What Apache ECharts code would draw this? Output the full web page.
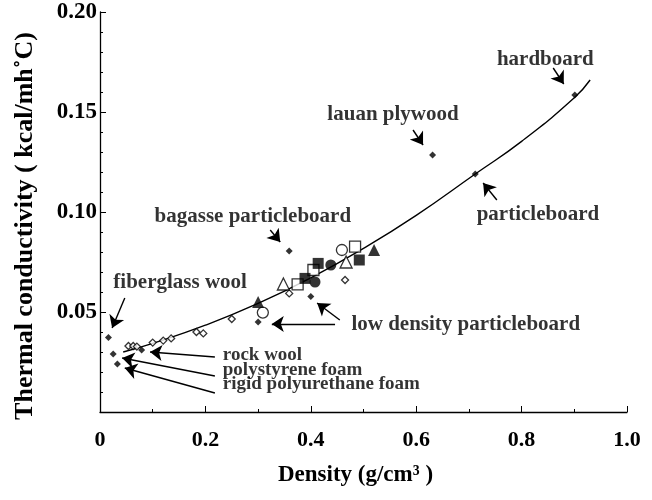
<!DOCTYPE html>
<html>
<head>
<meta charset="utf-8">
<script src="https://cdn.jsdelivr.net/npm/echarts@6/dist/echarts.min.js"></script>
<style>
    html, body { margin: 0; padding: 0; background: #fff; }
    #chart { width: 652px; height: 500px; }
</style>
</head>
<body>
<div id="chart"></div>
<script>
    // fitted curve
    let curve = [[0.044, 0.030], [0.1, 0.0343], [0.2, 0.0434], [0.3, 0.0543], [0.4, 0.0671],
        [0.5, 0.0818], [0.6, 0.0983], [0.712, 0.119], [0.8, 0.1353], [0.9, 0.1571], [0.93, 0.166]];

    // markers by symbol kind [density, conductivity]
    let filledDiamond = [[0.016, 0.0373], [0.025, 0.029], [0.033, 0.024], [0.079, 0.031], [0.30, 0.045],
        [0.40, 0.0577], [0.359, 0.0805], [0.631, 0.1285], [0.712, 0.119], [0.901, 0.1585]];
    let openDiamond = [[0.054, 0.033], [0.063, 0.033], [0.070, 0.0327], [0.100, 0.0347], [0.120, 0.0357],
        [0.135, 0.0368], [0.183, 0.040], [0.196, 0.0393], [0.25, 0.0465], [0.359, 0.0593], [0.465, 0.066]];
    let filledSquare = [[0.389, 0.0668], [0.414, 0.0743], [0.492, 0.076]];
    let openSquare = [[0.375, 0.0638], [0.405, 0.071], [0.484, 0.0827]];
    let filledCircle = [[0.408, 0.065], [0.438, 0.0735]];
    let openCircle = [[0.309, 0.0497], [0.459, 0.081]];
    let filledTriangle = [[0.30, 0.055], [0.52, 0.081]];
    let openTriangle = [[0.348, 0.064], [0.467, 0.075]];

    // annotation texts and arrows (tail -> head)
    let noteText = ['hardboard', 'lauan plywood', 'particleboard', 'bagasse particleboard', 'fiberglass wool',
        'low density particleboard', 'rock wool', 'polystyrene foam', 'rigid polyurethane foam'];
    let notePos = [[0.845, 0.176], [0.556, 0.1485], [0.831, 0.0985], [0.29, 0.0975], [0.152, 0.0645],
        [0.694, 0.0435], [0.233, 0.0285], [0.233, 0.0212], [0.233, 0.0138]];
    let noteAlign = ['center', 'center', 'center', 'center', 'center', 'center', 'left', 'left', 'left'];
    let noteSize = [21, 21, 21, 21, 21, 21, 19, 19, 19];
    let arrows = [
        [[0.86, 0.172], [0.88, 0.164]],
        [[0.594, 0.141], [0.613, 0.1335]],
        [[0.753, 0.106], [0.727, 0.1145]],
        [[0.323, 0.091], [0.342, 0.085]],
        [[0.047, 0.057], [0.023, 0.042]],
        [[0.455, 0.046], [0.412, 0.0545]],
        [[0.446, 0.044], [0.326, 0.044]],
        [[0.218, 0.0275], [0.095, 0.030]],
        [[0.218, 0.018], [0.042, 0.027]],
        [[0.218, 0.0095], [0.047, 0.022]]
    ];

    let font = 'Liberation Serif';
    let chart = echarts.init(document.getElementById('chart'));

    function markers(data, symbol, size, filled) {
        return {
            type: 'scatter',
            data: data,
            symbol: symbol,
            symbolSize: size,
            itemStyle: filled ? {color: '#000'} : {color: '#fff', borderColor: '#000', borderWidth: 1.3},
            z: 4
        };
    }

    let option = {
        animation: false,
        grid: {left: 100, right: 25, top: 12, bottom: 88},
        xAxis: {
            type: 'value',
            min: 0, max: 1, interval: 0.2,
            name: 'Density (g/cm³ )',
            nameLocation: 'middle',
            nameGap: 52,
            nameTextStyle: {fontFamily: font, fontWeight: 'bold', fontSize: 23, color: '#000', padding: [0, 16, 0, 0]},
            axisLine: {lineStyle: {color: '#000', width: 1.3}},
            axisTick: {inside: true, length: 6, lineStyle: {color: '#000'}},
            minorTick: {show: true, splitNumber: 2, length: 3, lineStyle: {color: '#000'}},
            splitLine: {show: false},
            axisLabel: {
                fontFamily: font, fontWeight: 'bold', fontSize: 22, color: '#000', margin: 17,
                formatter: v => v === 0 ? '0' : v.toFixed(1)
            }
        },
        yAxis: {
            type: 'value',
            min: 0, max: 0.2, interval: 0.05,
            name: 'Thermal conductivity ( kcal/mh˚C)',
            nameLocation: 'middle',
            nameGap: 62,
            nameTextStyle: {fontFamily: font, fontWeight: 'bold', fontSize: 26, color: '#000', padding: [0, 28, 0, 0]},
            axisLine: {lineStyle: {color: '#000', width: 1.3}},
            axisTick: {inside: true, length: 6, lineStyle: {color: '#000'}},
            minorTick: {show: true, splitNumber: 5, length: 3, lineStyle: {color: '#000'}},
            splitLine: {show: false},
            axisLabel: {
                fontFamily: font, fontWeight: 'bold', fontSize: 23, color: '#000', margin: 3,
                formatter: v => v === 0 ? '' : v.toFixed(2)
            }
        },
        series: [
            {
                type: 'line',
                data: curve,
                smooth: true,
                showSymbol: false,
                lineStyle: {color: '#000', width: 1.4},
                z: 3
            },
            markers(openDiamond, 'diamond', 7, false),
            markers(filledDiamond, 'diamond', 7, true),
            markers(openSquare, 'rect', 11, false),
            markers(filledSquare, 'rect', 11, true),
            markers(openCircle, 'circle', 11, false),
            markers(filledCircle, 'circle', 11, true),
            markers(openTriangle, 'triangle', 12, false),
            markers(filledTriangle, 'triangle', 12, true),
            {
                type: 'lines',
                coordinateSystem: 'cartesian2d',
                polyline: false,
                symbol: ['none', 'arrow'],
                symbolSize: 12,
                lineStyle: {color: '#000', width: 1.4, opacity: 1},
                data: arrows.map(a => ({coords: a})),
                z: 5
            },
            {
                type: 'scatter',
                symbolSize: 0,
                data: noteText.map((t, i) => ({
                    name: t,
                    value: notePos[i],
                    label: {align: noteAlign[i], fontSize: noteSize[i]}
                })),
                label: {
                    show: true,
                    position: [0, 0],
                    verticalAlign: 'middle',
                    formatter: '{b}',
                    fontFamily: font,
                    fontWeight: 'bold',
                    color: '#000'
                },
                silent: true,
                z: 6
            }
        ]
    };
    chart.setOption(option);
</script>
</body>
</html>
